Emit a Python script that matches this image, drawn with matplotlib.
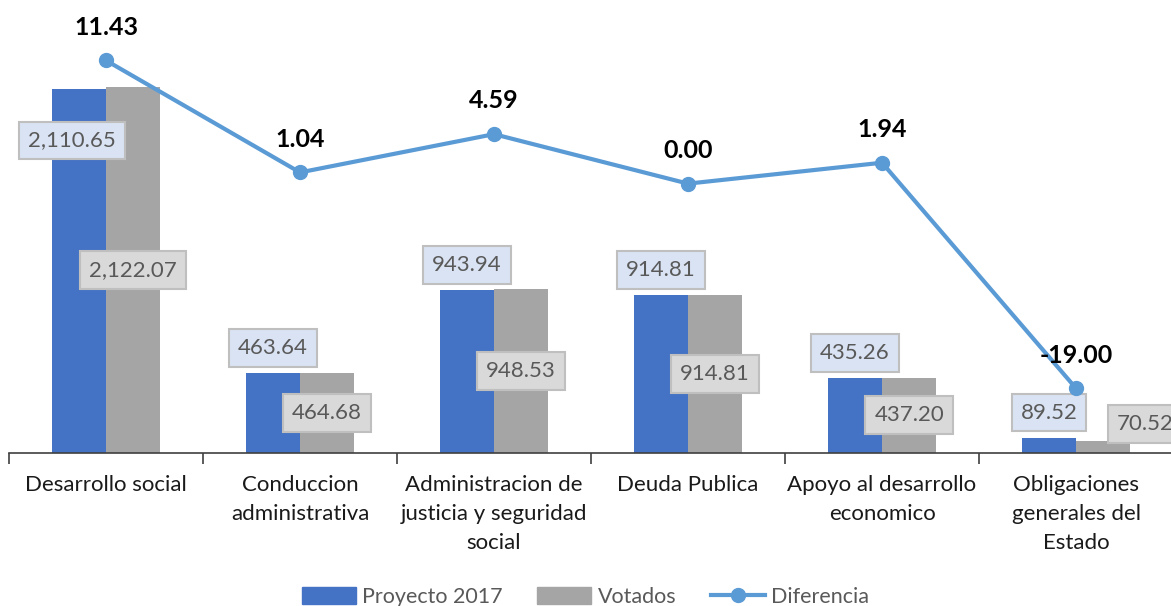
import numpy as np
import matplotlib.pyplot as plt
from matplotlib.patches import Patch
from matplotlib.lines import Line2D

plt.rcParams['font.family'] = ['Lato', 'DejaVu Sans']

categorias = ["Desarrollo social", "Conduccion\nadministrativa",
              "Administracion de\njusticia y seguridad\nsocial", "Deuda Publica",
              "Apoyo al desarrollo\neconomico", "Obligaciones\ngenerales del\nEstado"]
proyecto = [2110.65, 463.64, 943.94, 914.81, 435.26, 89.52]
votados = [2122.07, 464.68, 948.53, 914.81, 437.20, 70.52]
diferencia = [11.43, 1.04, 4.59, 0.00, 1.94, -19.00]

c_blue = "#4472C4"
c_gray = "#A5A5A5"
c_line = "#5B9BD5"
c_txt = "#595959"

fig = plt.figure(figsize=(11.71, 6.06), dpi=100)
ax = fig.add_axes([9 / 1171, 153 / 606, 1164 / 1171, 431 / 606])
x = np.arange(len(categorias))
w = 0.28

ax.bar(x - w / 2, proyecto, w, color=c_blue, zorder=2)
ax.bar(x + w / 2, votados, w, color=c_gray, zorder=2)
ax.set_xlim(-0.5, len(categorias) - 0.5)
ax.set_ylim(0, 2500)
ax.set_yticks([])
for s in ["top", "left", "right"]:
    ax.spines[s].set_visible(False)
ax.spines["bottom"].set_color("#404040")
ax.spines["bottom"].set_linewidth(1.2)
ax.set_xticks(x)
ax.set_xticklabels(categorias, fontsize=16, color="#1a1a1a", linespacing=1.55)
ax.tick_params(axis="x", which="major", length=0, pad=16)
ax.set_xticks(np.arange(-0.5, len(categorias)), minor=True)
ax.tick_params(axis="x", which="minor", length=8, width=1.2, color="#404040")

box_b = dict(boxstyle="square,pad=0.4", fc="#DAE3F3", ec="#BFBFBF", lw=1.5)
box_g = dict(boxstyle="square,pad=0.4", fc="#D9D9D9", ec="#BFBFBF", lw=1.5)

for i, v in enumerate(proyecto):
    if i == 0:
        ax.annotate(f"{v:,.2f}", (x[i] - w / 2, v), xytext=(-5, -37), textcoords="offset points",
                    ha="center", va="center", fontsize=16, color=c_txt, bbox=box_b, zorder=5)
    else:
        ax.annotate(f"{v:,.2f}", (x[i] - w / 2, v), xytext=(0, 18), textcoords="offset points",
                    ha="center", va="center", fontsize=16, color=c_txt, bbox=box_b, zorder=5)

for i, v in enumerate(votados):
    if v / 2 < 150:
        ax.annotate(f"{v:,.2f}", (x[i] + w / 2, v), xytext=(30, 12), textcoords="offset points",
                    ha="center", va="center", fontsize=16, color=c_txt, bbox=box_g, zorder=5)
    else:
        ax.text(x[i] + w / 2, v / 2, f"{v:,.2f}", ha="center", va="center", fontsize=16,
                color=c_txt, bbox=box_g, zorder=5)

ax2 = ax.twinx()
ax2.set_ylim(-25, 15)
ax2.set_yticks([])
for s in ax2.spines.values():
    s.set_visible(False)
ax2.plot(x, diferencia, color=c_line, lw=3, marker="o", ms=10, zorder=3)
for i, v in enumerate(diferencia):
    ax2.annotate(f"{v:.2f}", (x[i], v), xytext=(0, 24), textcoords="offset points",
                 ha="center", va="center", fontsize=18, fontweight="bold", color="black")

handles = [Patch(color=c_blue), Patch(color=c_gray),
           Line2D([0], [0], color=c_line, lw=3, marker="o", ms=10)]
fig.legend(handles, ["Proyecto 2017", "Votados", "Diferencia"], loc="center",
           bbox_to_anchor=(0.5, 9 / 606), ncol=3, frameon=False, fontsize=15.5,
           labelcolor=c_txt, handlelength=2.5, handleheight=0.8, columnspacing=1.6,
           handletextpad=0.3)

fig.savefig("out.png", dpi=100)
